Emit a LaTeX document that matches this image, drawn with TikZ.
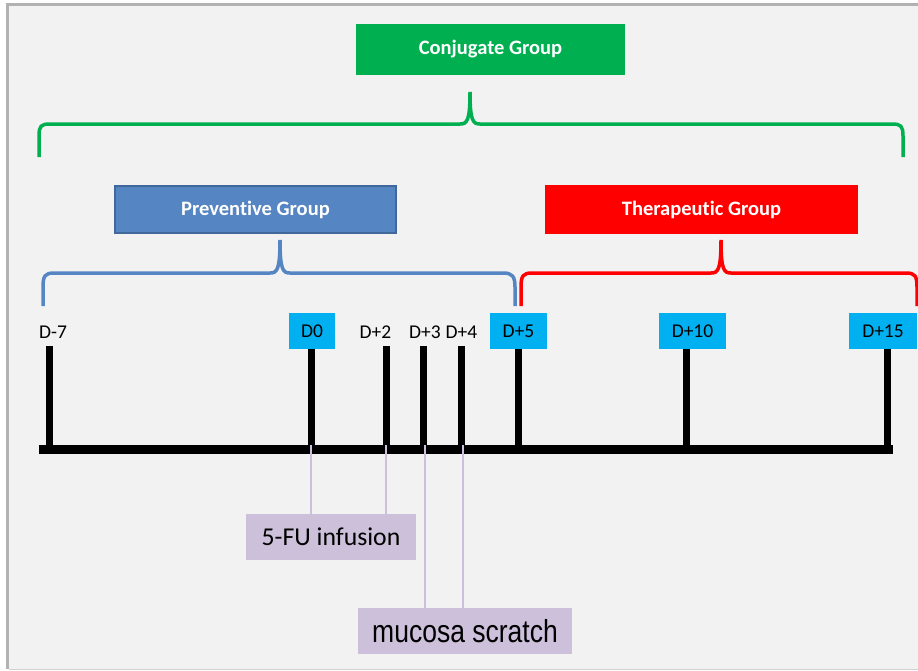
\documentclass[tikz,border=0pt]{standalone}
\usepackage{fontspec}
\setmainfont[Ligatures={NoCommon}]{Carlito}
\newfontfamily\arialf{Liberation Sans}
\definecolor{panel}{HTML}{F2F2F2}
\definecolor{framegray}{HTML}{B2B2B2}
\definecolor{cgreen}{HTML}{00B050}
\definecolor{pblue}{HTML}{5585C2}
\definecolor{pblueedge}{HTML}{41689A}
\definecolor{tred}{HTML}{FF0000}
\definecolor{dcyan}{HTML}{00B0F0}
\definecolor{lav}{HTML}{CCC0DA}
\begin{document}
\begin{tikzpicture}[x=1pt,y=-1pt,
  grpbox/.style={inner sep=0pt, text=white, font=\fontsize{20.5}{24}\selectfont\bfseries, minimum height=49pt},
  daybox/.style={fill=dcyan, inner sep=0pt, minimum height=36pt, font=\fontsize{19.5}{22}\selectfont},
  daytxt/.style={inner sep=0pt, font=\fontsize{19.5}{22}\selectfont},
  tickline/.style={line width=7pt},
  evbox/.style={fill=lav, inner sep=0pt, minimum height=46pt},
  evline/.style={lav, line width=2.5pt},
  bracegreen/.style={cgreen, line width=3.5pt},
  braceblue/.style={pblue, line width=3.5pt},
  bracered/.style={tred, line width=3.5pt}]
\useasboundingbox (0,0) rectangle (918,670);
\fill[white] (0,0) rectangle (918,670);
\fill[panel] (6,3) rectangle (918,669);
\fill[framegray] (6,3) rectangle (918,6);
\fill[framegray] (6,3) rectangle (9,669);
\draw[framegray!60, line width=1pt] (9,669.5) -- (918,669.5);

% group boxes
\node[grpbox, fill=cgreen, minimum width=269pt, minimum height=51pt] (conj) at (490.5,49.5) {Conjugate Group};
\node[grpbox, fill=pblue, draw=pblueedge, line width=2pt, minimum width=281pt, minimum height=47pt] (prev) at (255.5,209.5) {Preventive Group};
\node[grpbox, fill=tred, minimum width=313pt] (ther) at (701.5,209.5) {Therapeutic Group};

% braces
\draw[bracegreen] (39,157) -- (39,136) .. controls (39,126) and (41,124) .. (50,124) -- (460,124) .. controls (467,124) and (470,121) .. (470,92) .. controls (470,121) and (473,124) .. (480,124) -- (892,124) .. controls (901,124) and (903,126) .. (903,136) -- (903,157);
\draw[braceblue] (43,306) -- (43,287) .. controls (43,276) and (45,273) .. (54,273) -- (270,273) .. controls (277,273) and (280,270) .. (280,240) .. controls (280,270) and (283,273) .. (290,273) -- (503,273) .. controls (512,273) and (515,276) .. (515,287) -- (515,306);
\draw[bracered] (521,306) -- (521,287) .. controls (521,276) and (523,273) .. (532,273) -- (711,273) .. controls (718,273) and (721,270) .. (721,240) .. controls (721,270) and (724,273) .. (731,273) -- (906,273) .. controls (915,273) and (917,276) .. (917,287) -- (917,306);

% day labels
\node[daytxt] (dm7) at (53,332) {D-7};
\node[daybox, minimum width=46pt] (d0) at (312,331) {D0};
\node[daytxt] (d2) at (375.5,332) {D+2};
\node[daytxt] (d3) at (425,332) {D+3};
\node[daytxt] (d4) at (461.5,332) {D+4};
\node[daybox, minimum width=57pt] (d5) at (518.5,331) {D+5};
\node[daybox, minimum width=67pt] (d10) at (692.5,331) {D+10};
\node[daybox, minimum width=68pt] (d15) at (883,331) {D+15};

% axis
\coordinate (axL) at (39,449.5);
\coordinate (axR) at (893,449.5);
\coordinate (tm7) at (49,449.5);
\coordinate (t0) at (311,449.5);
\coordinate (t2) at (386,449.5);
\coordinate (t3) at (423,449.5);
\coordinate (t4) at (461,449.5);
\coordinate (t5) at (518,449.5);
\coordinate (t10) at (686,449.5);
\coordinate (t15) at (887,449.5);

\draw[tickline] (49,346) -- (tm7);
\draw[tickline] (t0 |- d0.south) -- (t0);
\draw[tickline] (386,346) -- (t2);
\draw[tickline] (423,346) -- (t3);
\draw[tickline] (461,346) -- (t4);
\draw[tickline] (t5 |- d5.south) -- (t5);
\draw[tickline] (t10 |- d10.south) -- (t10);
\draw[tickline] (t15 |- d15.south) -- (t15);
\draw[line width=9pt] (axL) -- (axR);

% events
\node[evbox, minimum width=170pt, font=\fontsize{25.7}{28}\selectfont] (fu) at (331,537) {5-FU infusion};
\node[evbox, minimum width=214pt, font=\arialf\fontsize{26.5}{28}\selectfont] (mu) at (465,631) {\scalebox{1}[1.2]{mucosa scratch}};

\draw[evline] ([yshift=4.5pt]t0) -- (t0 |- fu.north);
\draw[evline] ([yshift=4.5pt]t2) -- (t2 |- fu.north);
\draw[evline] ([xshift=2pt,yshift=4.5pt]t3) -- ([xshift=2pt]t3 |- mu.north);
\draw[evline] ([xshift=2pt,yshift=4.5pt]t4) -- ([xshift=2pt]t4 |- mu.north);
\end{tikzpicture}
\end{document}
